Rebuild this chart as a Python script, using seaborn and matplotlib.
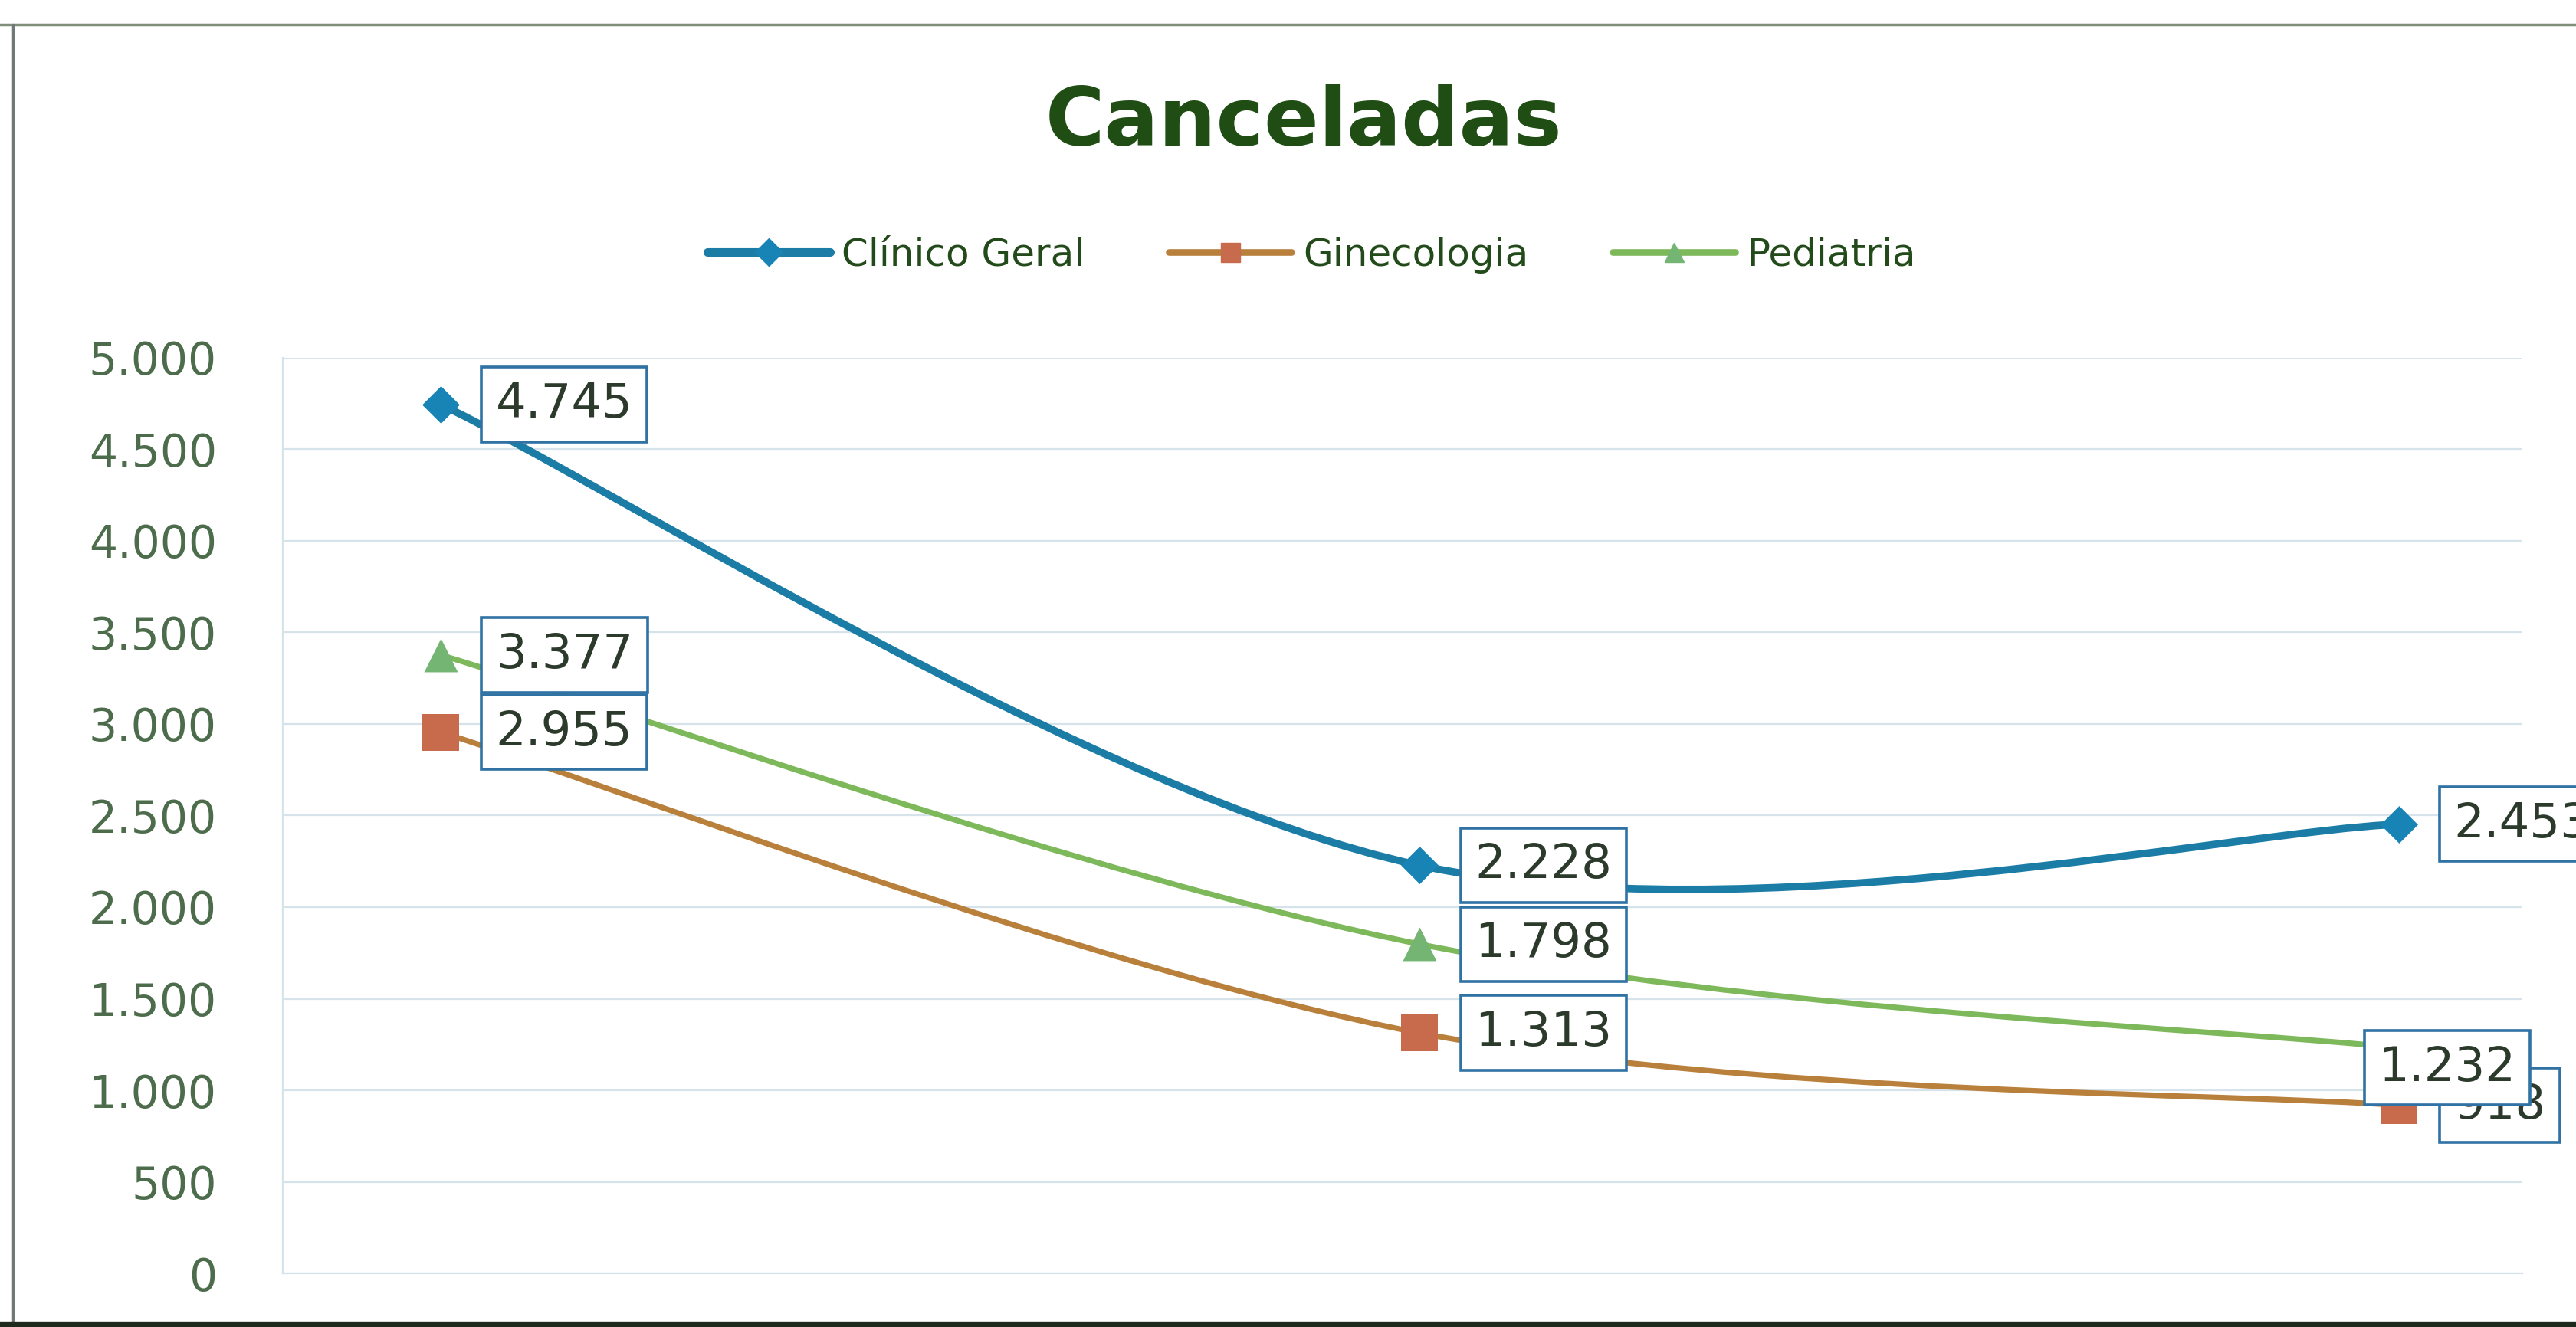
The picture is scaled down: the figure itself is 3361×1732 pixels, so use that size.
import numpy as np
import pandas as pd
import matplotlib
matplotlib.use("Agg")
import matplotlib.pyplot as plt
from matplotlib.path import Path
from matplotlib.patches import PathPatch
from matplotlib.lines import Line2D
import seaborn as sns

# dados
categorias = [0, 1, 2]
clinico_geral = [4745, 2228, 2453]
ginecologia = [2955, 1313, 918]
pediatria = [3377, 1798, 1232]
series_nomes = ["Clínico Geral", "Ginecologia", "Pediatria"]
yticks = [0, 500, 1000, 1500, 2000, 2500, 3000, 3500, 4000, 4500, 5000]

cores_linha = {"Clínico Geral": "#1b7ca6", "Ginecologia": "#b9803c", "Pediatria": "#7db85a"}
cores_marc = {"Clínico Geral": "#1884b6", "Ginecologia": "#c86a4c", "Pediatria": "#74b574"}
marcadores = {"Clínico Geral": "D", "Ginecologia": "s", "Pediatria": "^"}
tamanhos = {"Clínico Geral": 620, "Ginecologia": 1150, "Pediatria": 1000}
larguras = {"Clínico Geral": 7, "Ginecologia": 5.2, "Pediatria": 5.2}

df = pd.DataFrame({
    "x": categorias * 3,
    "valor": clinico_geral + ginecologia + pediatria,
    "serie": [s for s in series_nomes for _ in categorias],
})

sns.set_theme(style="white")
plt.rcParams["font.family"] = ["DejaVu Sans"]

fig = plt.figure(figsize=(33.62, 17.32), dpi=100)
ax = fig.add_axes([0.1098, 0.0404, 0.869, 0.690])


def curva_suave(xs, ys):
    # curva tipo Excel (Catmull-Rom -> Bezier)
    pts = np.column_stack([xs, ys]).astype(float)
    n = len(pts)
    verts = [pts[0]]
    codes = [Path.MOVETO]
    for i in range(n - 1):
        p0 = pts[i - 1] if i > 0 else pts[i]
        p1 = pts[i]
        p2 = pts[i + 1]
        p3 = pts[i + 2] if i + 2 < n else pts[i + 1]
        verts += [p1 + (p2 - p0) / 6, p2 - (p3 - p1) / 6, p2]
        codes += [Path.CURVE4] * 3
    return Path(verts, codes)


# linhas suavizadas
for nome in series_nomes:
    d = df[df["serie"] == nome]
    patch = PathPatch(curva_suave(d["x"].values, d["valor"].values), fill=False,
                      edgecolor=cores_linha[nome], lw=larguras[nome], zorder=2,
                      capstyle="round", joinstyle="round")
    ax.add_patch(patch)

# marcadores
for nome in series_nomes:
    d = df[df["serie"] == nome]
    sns.scatterplot(data=d, x="x", y="valor", marker=marcadores[nome], s=tamanhos[nome],
                    color=cores_marc[nome], edgecolor=cores_marc[nome], linewidth=0,
                    ax=ax, zorder=3, legend=False)

ax.set_xlim(-0.161, 2.126)
ax.set_ylim(0, 5000)
ax.set_yticks(yticks)
ax.set_yticklabels([f"{v:,}".replace(",", ".") for v in yticks])
ax.set_xticks([])
ax.set_xlabel("")
ax.set_ylabel("")
ax.tick_params(axis="y", labelsize=42, labelcolor="#4c6c4c", length=0, pad=62)
ax.grid(axis="y", color="#d6e3ea", lw=1.6)
ax.set_axisbelow(True)
for lado in ["top", "right"]:
    ax.spines[lado].set_visible(False)
for lado in ["left", "bottom"]:
    ax.spines[lado].set_color("#d6e3ea")
    ax.spines[lado].set_linewidth(1.6)

# rotulos de dados
caixa = dict(boxstyle="square,pad=0.3", fc="white", ec="#2f72a3", lw=2.6)
for nome in series_nomes:
    d = df[df["serie"] == nome]
    for x, v in zip(d["x"], d["valor"]):
        txt = f"{v:,}".replace(",", ".")
        if nome == "Pediatria" and x == 2:
            ax.annotate(txt, (x, v), xytext=(63, -26), textcoords="offset pixels",
                        ha="center", va="center", fontsize=45, color="#2c3a2c",
                        bbox=caixa, zorder=5)
        else:
            ax.annotate(txt, (x, v), xytext=(72, 0), textcoords="offset pixels",
                        ha="left", va="center", fontsize=45, color="#2c3a2c",
                        bbox=caixa, zorder=4)

# titulo
fig.text(0.506, 0.907, "Canceladas", ha="center", va="center", fontsize=76,
         fontweight="bold", color="#1f4d13")

# legenda
handles = [Line2D([0], [0], color=cores_linha[n], lw=larguras[n] + 1, marker=marcadores[n],
                  markersize=18, markerfacecolor=cores_marc[n], markeredgecolor=cores_marc[n])
           for n in series_nomes]
fig.legend(handles, series_nomes, loc="center", bbox_to_anchor=(0.509, 0.808), ncol=3,
           frameon=False, fontsize=36, handlelength=3.2, handletextpad=0.3,
           columnspacing=2.2, labelcolor="#234a1a")

# moldura da foto
fig.add_artist(Line2D([0.0, 1.0], [0.9815, 0.9815], color="#7f8f7a", lw=2.5))
fig.add_artist(Line2D([0.005, 0.005], [0.0, 0.9815], color="#6f7a78", lw=2.5))
fig.add_artist(Line2D([0.0, 1.0], [0.002, 0.002], color="#1d2a1d", lw=6))

fig.savefig("out.png", dpi=100)
